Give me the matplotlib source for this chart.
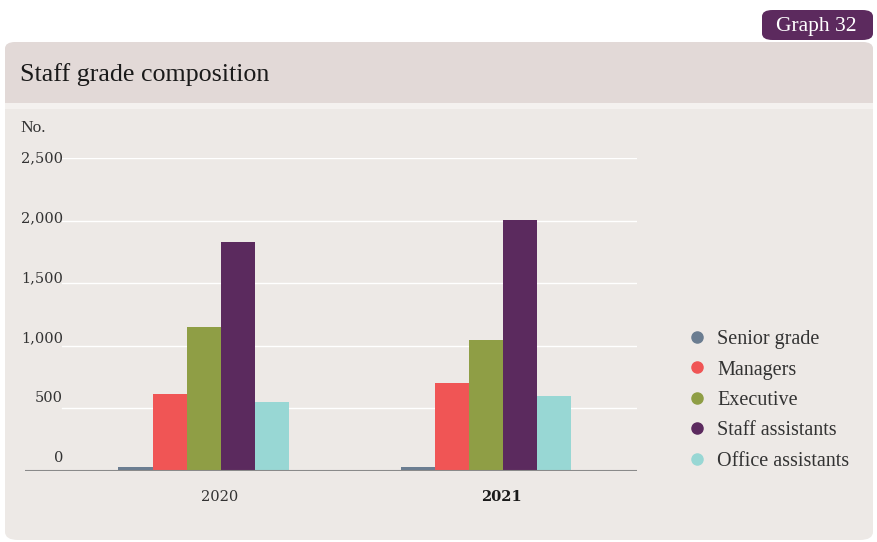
import matplotlib.pyplot as plt
from matplotlib.patches import FancyBboxPatch, Rectangle
from matplotlib.transforms import blended_transform_factory, offset_copy, ScaledTranslation

years = ["2020", "2021"]
series = ["Senior grade", "Managers", "Executive", "Staff assistants", "Office assistants"]
senior = [30, 30]
managers = [615, 705]
executive = [1150, 1045]
staff = [1830, 2005]
office = [550, 600]
colours = ["#6b7d91", "#f05555", "#8f9e45", "#5b2a5e", "#98d7d4"]
yticks = [0, 500, 1000, 1500, 2000, 2500]

plt.rcParams['font.family'] = ['Liberation Serif', 'DejaVu Serif']

fig = plt.figure(figsize=(8.78, 5.42), dpi=100)
fig.patch.set_facecolor("white")

W, H = 878, 542
def fx(x): return x / W
def fy(y): return 1 - y / H

# panel background
fig.patches.append(FancyBboxPatch((fx(5), fy(540)), fx(868), 498 / H,
                                  boxstyle="round,pad=0,rounding_size=0.015",
                                  transform=fig.transFigure, facecolor="#ede9e6",
                                  edgecolor="none", zorder=0))
fig.patches.append(FancyBboxPatch((fx(5), fy(103)), fx(868), 61 / H,
                                  boxstyle="round,pad=0,rounding_size=0.012",
                                  transform=fig.transFigure, facecolor="#e2d9d7",
                                  edgecolor="none", zorder=1))
fig.patches.append(Rectangle((fx(5), fy(103)), fx(868), 25 / H,
                             transform=fig.transFigure, facecolor="#e2d9d7",
                             edgecolor="none", zorder=1))
fig.patches.append(Rectangle((fx(5), fy(109)), fx(868), 6 / H,
                             transform=fig.transFigure, facecolor="#f4f1ef",
                             edgecolor="none", zorder=1))
fig.patches.append(FancyBboxPatch((fx(762), fy(40)), fx(111), 30 / H,
                                  boxstyle="round,pad=0,rounding_size=0.012",
                                  transform=fig.transFigure, facecolor="#5c2a5e",
                                  edgecolor="none", zorder=0))
fig.text(fx(816), fy(26), "Graph 32", color="white", fontsize=15.5,
         ha="center", va="center")
fig.text(fx(20), fy(75), "Staff grade composition", color="#1a1a1a",
         fontsize=18.7, ha="left", va="center")
fig.text(fx(20), fy(128), "No.", color="#333333", fontsize=12.5,
         ha="left", va="center")

ax = fig.add_axes([fx(25), fy(471), fx(612), (471 - 158) / H], zorder=5)
ax.set_facecolor("none")
values = [senior, managers, executive, staff, office]
width = 0.1206
x = list(range(len(years)))
for i, (name, vals, c) in enumerate(zip(series, values, colours)):
    pos = [xi + (i - 2) * width for xi in x]
    ax.bar(pos, vals, width=width, color=c, label=name, zorder=3)

ax.set_ylim(0, 2500)
ax.set_xlim(-0.633, 1.537)
for v in yticks[1:]:
    ax.axhline(v, xmin=(62 - 25) / 612, xmax=1, color="white", lw=1, zorder=1)
ax.axhline(0, color="#8a8a8a", lw=1.5, zorder=4)

trans = blended_transform_factory(fig.transFigure, ax.transData)
for v in yticks:
    off = 13 * (1 - v / 2500) * 0.72
    ax.text(fx(63), v, f"{v:,}", transform=offset_copy(trans, fig=fig, y=off, units="points"),
            ha="right", va="center", fontsize=10.5, color="#333333",
            family="DejaVu Serif")

for s in ax.spines.values():
    s.set_visible(False)
ax.set_yticks([])
ax.set_xticks(x)
ax.set_xticklabels(years, fontsize=10.5, color="#333333", family="DejaVu Serif")
ax.get_xticklabels()[1].set_fontweight("bold")
ax.get_xticklabels()[1].set_color("#1a1a1a")
ax.tick_params(axis="x", length=0, pad=14)
shift = ScaledTranslation(16 / 100, 0, fig.dpi_scale_trans)
for lab in ax.get_xticklabels():
    lab.set_transform(lab.get_transform() + shift)

fig.legend(handles=[plt.Line2D([], [], marker="o", ls="", color=c, markersize=8)
                    for c in colours],
           labels=series, loc="upper left",
           bbox_to_anchor=(fx(679), fy(322)), frameon=False,
           fontsize=14.5, handletextpad=0.5, labelspacing=0.56,
           handlelength=1.0, labelcolor="#333333", borderaxespad=0)

fig.savefig("out.png", dpi=100)
